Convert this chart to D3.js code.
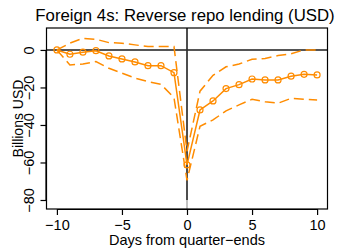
<!DOCTYPE html>
<html>
<head>
<meta charset="utf-8">
<script src="https://cdn.jsdelivr.net/npm/d3@7"></script>
<style>
  body { margin: 0; background: #fff; }
  text { font-family: "Liberation Sans", Arial, sans-serif; fill: #000; }
</style>
</head>
<body>
<div id="chart"></div>
<script>
// days relative to quarter-end
var days = [-10, -9, -8, -7, -6, -5, -4, -3, -2, -1, 0, 1, 2, 3, 4, 5, 6, 7, 8, 9, 10];
// point estimate and confidence band, billions USD
var estimate = [0, -2.3, -1.2, -0.4, -3.2, -4.8, -6.4, -8.4, -8.4, -12.1, -61.3, -32, -27.2, -20.6, -18.5, -15.5, -16, -16, -14, -13, -13.3];
var upper = [0, 3.6, 6.2, 5.7, 3.9, 3.6, 2.7, 1.8, 1.8, 1.8, -54, -22, -13.5, -9, -7.5, -5, -4.5, -3, -2, 0, 0];
var lower = [0, -8, -7.5, -6.2, -9.8, -12.4, -15, -16.9, -18.3, -25.5, -69.5, -40.7, -37.3, -32.5, -29.3, -26.3, -27.6, -28.4, -25.8, -26.3, -26.7];
var xTicks = [-10, -5, 0, 5, 10];
var yTicks = [0, -20, -40, -60, -80];

var orange = "#ff8c00";
var width = 339, height = 248;
var plotL = 46.5, plotR = 327.5, plotT = 28, plotB = 209;

var svg = d3.select("#chart").append("svg")
    .attr("width", width)
    .attr("height", height);

var x = d3.scaleLinear().domain([-10.8, 10.8]).range([plotL, plotR]);
var y = d3.scaleLinear().domain([-84.8, 11.7]).range([plotB, plotT]);

var line = d3.line()
    .x(function(d, i) { return x(days[i]); })
    .y(function(d) { return y(d); });

// reference lines
svg.append("line")
    .attr("x1", plotL).attr("x2", plotR)
    .attr("y1", y(0)).attr("y2", y(0))
    .style("stroke", "#555").style("stroke-width", 2);
svg.append("line")
    .attr("x1", x(0)).attr("x2", x(0))
    .attr("y1", plotT).attr("y2", plotB)
    .style("stroke", "#999").style("stroke-width", 1.2);
svg.append("line")
    .attr("x1", x(0)).attr("x2", x(0))
    .attr("y1", plotT).attr("y2", y(-80))
    .style("stroke", "#000").style("stroke-width", 1.2);

// confidence bands
[upper, lower].forEach(function(band) {
    svg.append("path")
        .attr("d", line(band))
        .style("fill", "none")
        .style("stroke", orange)
        .style("stroke-width", 1.5)
        .style("stroke-dasharray", "10,5");
});

// estimate
svg.append("path")
    .attr("d", line(estimate))
    .style("fill", "none")
    .style("stroke", orange)
    .style("stroke-width", 1.5);
svg.selectAll(".pt")
    .data(estimate)
    .enter()
    .append("circle")
    .attr("class", "pt")
    .attr("cx", function(d, i) { return x(days[i]); })
    .attr("cy", function(d) { return y(d); })
    .attr("r", 3)
    .style("fill", "none")
    .style("stroke", orange)
    .style("stroke-width", 1.2);

// box
svg.append("rect")
    .attr("x", plotL).attr("y", plotT)
    .attr("width", plotR - plotL).attr("height", plotB - plotT)
    .style("fill", "none").style("stroke", "#000").style("stroke-width", 1.2);

// x axis
var xAxis = d3.axisBottom(x)
    .tickValues(xTicks)
    .tickSize(6)
    .tickPadding(5)
    .tickFormat(function(d) { return d < 0 ? "\u2212" + Math.abs(d) : d; });
var gx = svg.append("g")
    .attr("transform", "translate(0," + plotB + ")")
    .call(xAxis);
gx.select(".domain").attr("d", "M" + x(-10) + ",0.5H" + x(10));
gx.selectAll("text").style("font-size", "14.5px").style("font-family", "Liberation Sans, Arial, sans-serif");
gx.selectAll("line, path").style("stroke", "#000").style("stroke-width", 1.2);

// y axis
var yAxis = d3.axisLeft(y)
    .tickValues(yTicks)
    .tickSize(6)
    .tickFormat(function(d) { return d < 0 ? "\u2212" + Math.abs(d) : d; });
var gy = svg.append("g")
    .attr("transform", "translate(" + plotL + ",0)")
    .call(yAxis);
gy.select(".domain").attr("d", "M-0.5," + y(0) + "V" + y(-80));
gy.selectAll("line, path").style("stroke", "#000").style("stroke-width", 1.2);
gy.selectAll("text")
    .attr("x", null).attr("dy", null)
    .attr("transform", "translate(-13,0) rotate(-90)")
    .attr("text-anchor", "middle")
    .style("font-size", "14.5px")
    .style("font-family", "Liberation Sans, Arial, sans-serif");

// titles
svg.append("text")
    .attr("x", (plotL + plotR) / 2 - 2)
    .attr("y", 20.5)
    .attr("text-anchor", "middle")
    .style("font-size", "16.8px")
    .text("Foreign 4s: Reverse repo lending (USD)");
svg.append("text")
    .attr("x", (plotL + plotR) / 2)
    .attr("y", 245)
    .attr("text-anchor", "middle")
    .style("font-size", "14.5px")
    .text("Days from quarter\u2212ends");
svg.append("text")
    .attr("transform", "translate(22.5," + (plotT + plotB) / 2 + ") rotate(-90)")
    .attr("text-anchor", "middle")
    .style("font-size", "14px")
    .text("Billions USD");
</script>
</body>
</html>
